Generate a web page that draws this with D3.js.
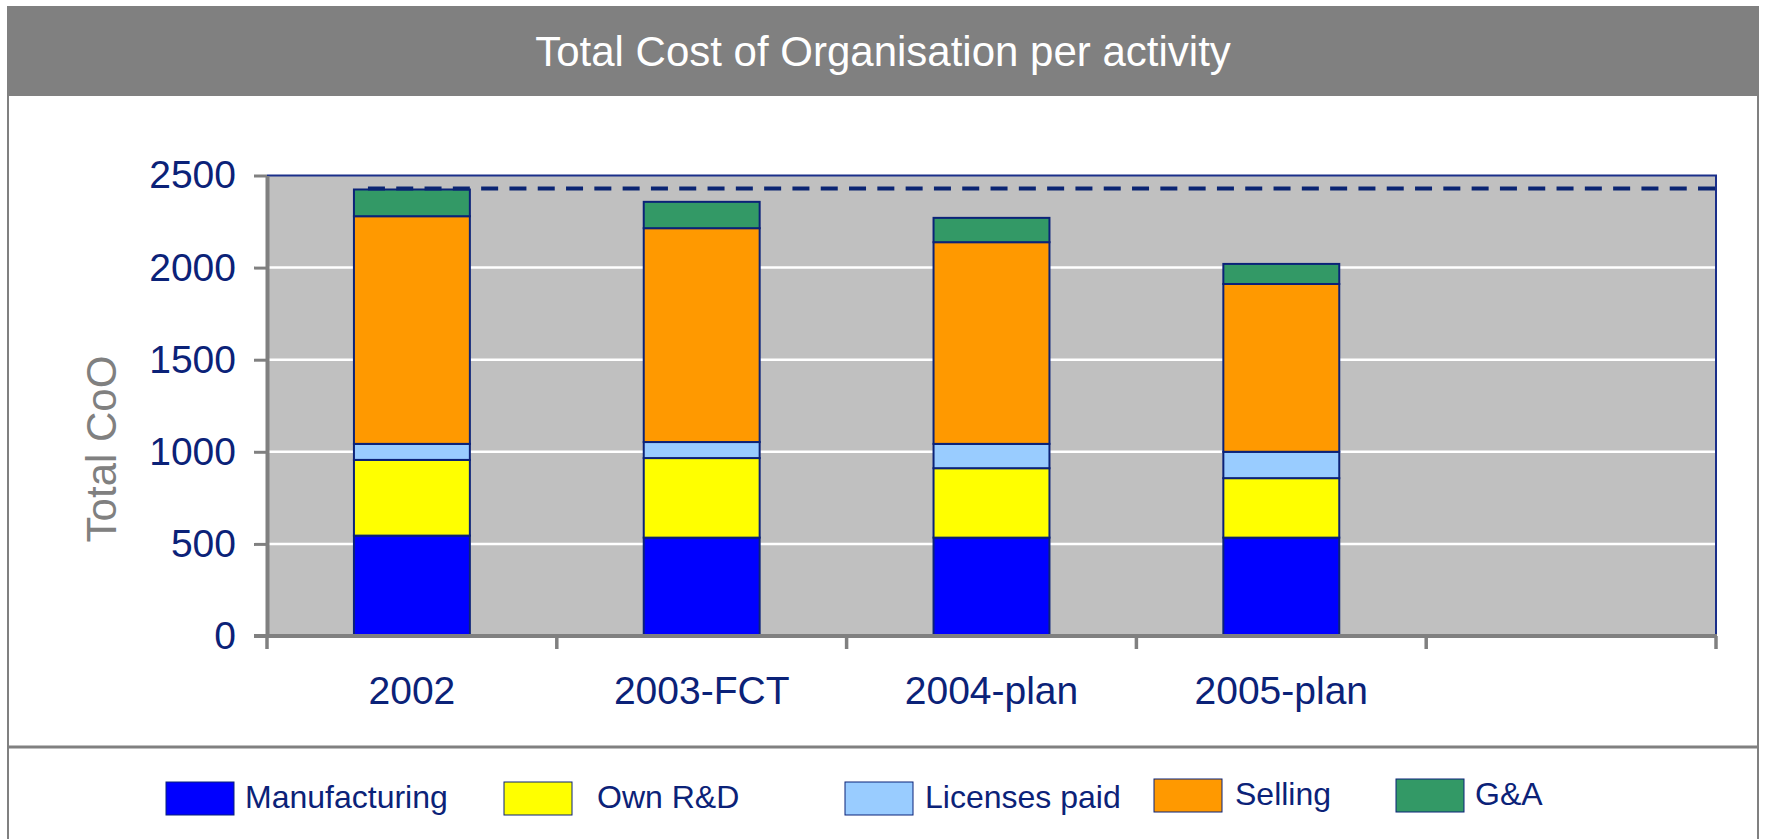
<!DOCTYPE html>
<html>
<head>
<meta charset="utf-8">
<script src="https://cdn.jsdelivr.net/npm/d3@7"></script>
<style>
  body { margin: 0; background: #fff; }
  svg { display: block; font-family: "Liberation Sans", Arial, sans-serif; }
</style>
</head>
<body>
<div id="chart"></div>
<script>
// chart data
let categories = ["2002", "2003-FCT", "2004-plan", "2005-plan"];
let seriesNames = ["Manufacturing", "Own R&D", "Licenses paid", "Selling", "G&A"];
let manufacturing = [545, 534, 534, 534];
let ownRD = [411, 432, 377, 323];
let licensesPaid = [87, 87, 132, 143];
let selling = [1236, 1161, 1095, 911];
let gAndA = [145, 143, 132, 109];
let referenceLevel = 2430;
let yTicks = [0, 500, 1000, 1500, 2000, 2500];

let colors = ["#0000FF", "#FFFF00", "#99CCFF", "#FF9900", "#339966"];
let navy = "#0b2278";

function gen_chart() {
    let width = 1765, height = 839;
    let left = 267, right = 1716, top = 175.5, bottom = 636;

    let svg = d3.select("#chart").append("svg")
        .attr("width", width)
        .attr("height", height);

    // frame + header
    svg.append("rect").attr("x", 8).attr("y", 6).attr("width", 1750).attr("height", 90)
        .attr("fill", "#808080");
    svg.append("line").attr("x1", 8).attr("x2", 8).attr("y1", 6).attr("y2", height)
        .attr("stroke", "#808080").attr("stroke-width", 2);
    svg.append("line").attr("x1", 1758).attr("x2", 1758).attr("y1", 6).attr("y2", height)
        .attr("stroke", "#808080").attr("stroke-width", 2);
    svg.append("line").attr("x1", 8).attr("x2", 1758).attr("y1", 747).attr("y2", 747)
        .attr("stroke", "#808080").attr("stroke-width", 3);

    svg.append("text")
        .attr("x", 883).attr("y", 66)
        .attr("text-anchor", "middle")
        .attr("fill", "#fff")
        .style("font-size", "42px")
        .text("Total Cost of Organisation per activity");

    // scales (5 slots, last one left empty like the original)
    let slots = categories.concat([""]);
    let x = d3.scaleBand()
        .domain(slots)
        .range([left, right])
        .paddingInner(0.6)
        .paddingOuter(0.3);

    let y = d3.scaleLinear()
        .domain([0, 2500])
        .range([bottom, top]);

    // plot area
    svg.append("rect")
        .attr("x", left).attr("y", top)
        .attr("width", right - left).attr("height", bottom - top)
        .attr("fill", "#C0C0C0");

    // gridlines
    svg.append("g").selectAll("line")
        .data(yTicks.filter(d => d > 0 && d < 2500))
        .enter().append("line")
        .attr("x1", left).attr("x2", right)
        .attr("y1", d => y(d)).attr("y2", d => y(d))
        .attr("stroke", "#fff").attr("stroke-width", 2.5);

    // top & right border of plot
    svg.append("path")
        .attr("d", `M${left},${top}H${right}V${bottom}`)
        .attr("fill", "none").attr("stroke", "#1a2f8a").attr("stroke-width", 2);

    // stacked bars
    let table = categories.map((c, i) => ({
        category: c,
        "Manufacturing": manufacturing[i],
        "Own R&D": ownRD[i],
        "Licenses paid": licensesPaid[i],
        "Selling": selling[i],
        "G&A": gAndA[i]
    }));
    let stacked = d3.stack().keys(seriesNames)(table);

    svg.append("g").selectAll("g")
        .data(stacked)
        .enter().append("g")
        .attr("fill", (d, i) => colors[i])
        .selectAll("rect")
        .data(d => d)
        .enter().append("rect")
        .attr("x", d => x(d.data.category))
        .attr("width", x.bandwidth())
        .attr("y", d => y(d[1]))
        .attr("height", d => y(d[0]) - y(d[1]))
        .attr("stroke", navy)
        .attr("stroke-width", 2);

    // dashed reference line at 2002 level
    svg.append("line")
        .attr("x1", x(categories[0]) + 14).attr("x2", right - 1)
        .attr("y1", y(referenceLevel)).attr("y2", y(referenceLevel))
        .attr("stroke", "#0a2472")
        .attr("stroke-width", 4)
        .attr("stroke-dasharray", "17,11.3");

    // y axis
    let yAxis = svg.append("g")
        .attr("transform", `translate(${left},0)`)
        .call(d3.axisLeft(y).tickValues(yTicks).tickFormat(d3.format("d"))
            .tickSize(13).tickSizeOuter(0).tickPadding(18));
    yAxis.select(".domain").attr("stroke", "#808080").attr("stroke-width", 4);
    yAxis.selectAll(".tick line").attr("stroke", "#808080").attr("stroke-width", 3);
    yAxis.selectAll(".tick text")
        .attr("fill", navy)
        .style("font-size", "39px")
        .style("font-family", "'Liberation Sans', Arial, sans-serif");

    // x axis: baseline + boundary ticks
    svg.append("line")
        .attr("x1", left - 13).attr("x2", right + 1)
        .attr("y1", bottom).attr("y2", bottom)
        .attr("stroke", "#808080").attr("stroke-width", 4);

    let boundaries = slots.map(c => x(c) + x.bandwidth() / 2 - x.step() / 2).concat([right]);
    svg.append("g").selectAll("line")
        .data(boundaries)
        .enter().append("line")
        .attr("x1", d => d).attr("x2", d => d)
        .attr("y1", bottom).attr("y2", bottom + 13)
        .attr("stroke", "#808080").attr("stroke-width", 3.5);

    svg.append("g").selectAll("text")
        .data(categories)
        .enter().append("text")
        .attr("x", d => x(d) + x.bandwidth() / 2)
        .attr("y", 704)
        .attr("text-anchor", "middle")
        .attr("fill", navy)
        .style("font-size", "39px")
        .text(d => d);

    // axis title
    svg.append("text")
        .attr("transform", "translate(116,449) rotate(-90)")
        .attr("text-anchor", "middle")
        .attr("fill", "#808080")
        .style("font-size", "42px")
        .text("Total CoO");

    // legend
    let legendX = [166, 504, 845, 1154, 1396];
    let legendY = [782, 782, 782, 779, 779];
    let labelX = [245, 597, 925, 1235, 1475];
    let legend = svg.append("g").selectAll("g")
        .data(seriesNames)
        .enter().append("g");
    legend.append("rect")
        .attr("x", (d, i) => legendX[i])
        .attr("y", (d, i) => legendY[i])
        .attr("width", 68).attr("height", 33)
        .attr("fill", (d, i) => colors[i])
        .attr("stroke", navy).attr("stroke-width", 1);
    legend.append("text")
        .attr("x", (d, i) => labelX[i])
        .attr("y", (d, i) => legendY[i] + 26)
        .attr("fill", navy)
        .style("font-size", "32px")
        .text(d => d);
}

gen_chart();
</script>
</body>
</html>
